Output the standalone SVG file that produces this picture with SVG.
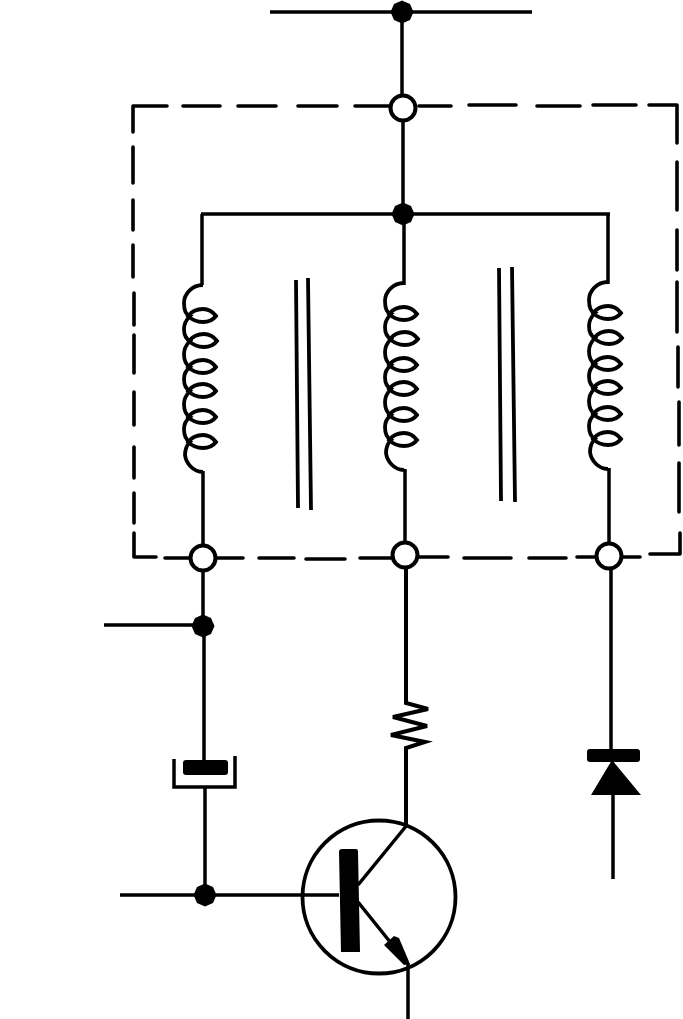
<svg xmlns="http://www.w3.org/2000/svg" width="683" height="1019" viewBox="0 0 683 1019">
<style>
.w{fill:none;stroke:#000;stroke-width:3.5;stroke-linecap:butt;stroke-linejoin:miter}
.d{fill:none;stroke:#000;stroke-width:3.6;stroke-linecap:round;stroke-linejoin:round}
.o{fill:#fff;stroke:#000;stroke-width:4}
.f{fill:#000;stroke:none}
.c{fill:none;stroke:#000;stroke-width:3.8}
.core{fill:none;stroke:#000;stroke-width:3.8}
</style>
<defs>
<g id="coil">
<path class="c" d="M203 285C192 285 184 294 184 303C184 310 186 315 190 316C185 321 184 325 184 329C184 335 186 339 190 341C185 346 184 350 184 354C184 360 186 365 190 367C185 371 184 375 184 379C184 385 186 389 190 391C185 396 184 400 184 404C184 410 186 415 190 417C185 421 184 425 184 429C184 435 186 440 190 442C186 446 185 450 185 455C186 463 193 472 203 472"/>
<path id="loop" class="c" d="M188 316C192 311 197 309 203 309C209 309 213 312 216 316C213 320 209 322 203 322C197 322 192 320 188 316Z"/>
<use href="#loop" y="25" x="1"/>
<use href="#loop" y="51"/>
<use href="#loop" y="75"/>
<use href="#loop" y="101"/>
<use href="#loop" y="126"/>
</g>
<circle id="open" class="o" r="12.5"/>
<path id="dot" class="f" d="M0 -11.5L8 -8L11.5 0L8 8L0 11.5L-8 8L-11.5 0L-8 -8Z"/>
</defs>
<g id="enclosure">
<path class="d" d="M167 106H133V132M183 106H220M238 106H276M298 106H337M355 106H392M419 106H451M469 105H516M537 106H580M593 105H636M649 105H677V143"/>
<path class="d" d="M133 147V183M133 200V230M133 245V277M134 293V325M134 335V373M134 392V425M134 447V478M134 493V523M134 533V557H156"/>
<path class="d" d="M677 162V210M677 230V270M677 282V332M678 347V387M679 402V445M679 463V512M680 533V554H650"/>
<path class="d" d="M165 558H190M215 558H243M259 558H294M306 559H345M360 558H393M417 557H448M464 558H511M529 558H566M577 557H597M622 557H640"/>
</g>
<g id="connectors">
<path class="w" d="M270 12H532M402 12V96M403 120V214"/>
<path class="w" d="M201 214H610M202 214V285M404 214V285M608 214V284"/>
<path class="w" d="M203 471V545M405 469V543M609 468V544"/>
<path class="w" d="M203 570V626M104 625H203M204 626V760M205 787V895M120 895H339"/>
<path class="w" style="stroke-width:4" d="M406 567V703L428 709L393 717L427 726L391 735L425 742L406 748V825"/>
<path class="w" d="M611 568V750M613 795V879"/>
<path class="w" d="M408 963V1019"/>
</g>
<g id="coil-left"><use href="#coil"/></g>
<g id="coil-middle"><use href="#coil" transform="translate(201,-2)"/></g>
<g id="coil-right"><use href="#coil" transform="translate(405,-3)"/></g>
<g id="core-left"><path class="core" d="M296 280L298 508M308 278L311 510"/></g>
<g id="core-right"><path class="core" d="M499 268L501 501M512 267L515 502"/></g>
<g id="node-top"><use href="#dot" x="402" y="12"/></g>
<g id="node-terminal-top"><use href="#open" x="403" y="108"/></g>
<g id="node-junction"><use href="#dot" x="403" y="214"/></g>
<g id="node-terminal-left"><use href="#open" x="203" y="558"/></g>
<g id="node-terminal-middle"><use href="#open" x="405" y="555"/></g>
<g id="node-terminal-right"><use href="#open" x="609" y="556"/></g>
<g id="node-cap-top"><use href="#dot" x="203" y="626"/></g>
<g id="node-base"><use href="#dot" x="205" y="895"/></g>
<g id="capacitor">
<rect class="f" x="183" y="760" width="45" height="15" rx="3"/>
<path class="w" d="M174 759V787H235V756"/>
</g>
<g id="diode">
<rect class="f" x="587" y="749" width="53" height="13" rx="3"/>
<path class="f" d="M612 760L641 795H591Z"/>
</g>
<g id="transistor">
<circle class="c" cx="379" cy="897" r="76.5"/>
<path class="f" d="M339 852Q339 849 342 849H356Q358 849 358 852L360 952H341Z"/>
<path class="w" d="M358 885L407 825M358 902L407 963"/>
<path class="f" d="M384 945L394 936L399 938L410 964L404 965Z"/>
</g>
</svg>
